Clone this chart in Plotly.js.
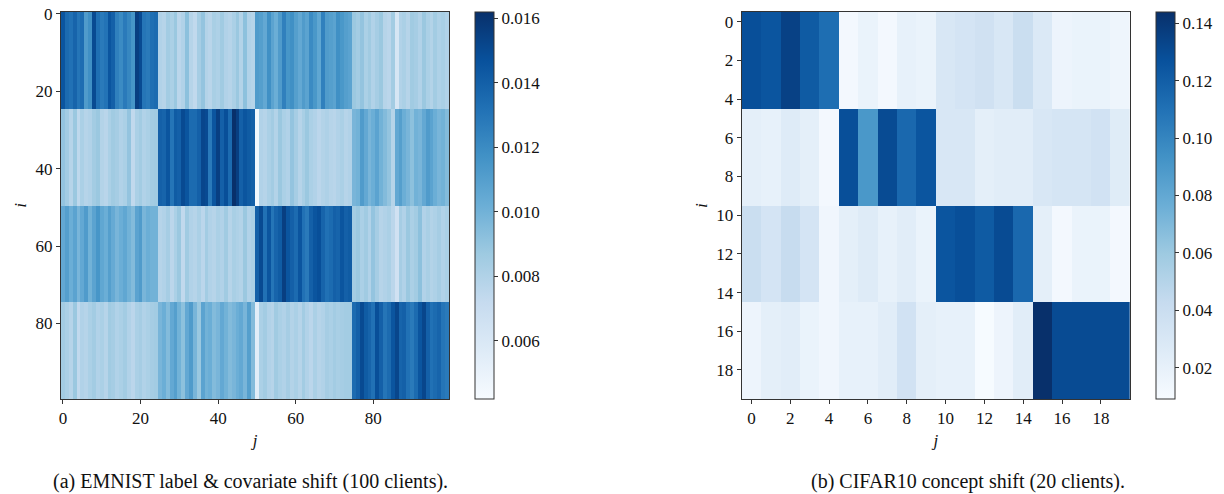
<!DOCTYPE html>
<html>
<head>
<meta charset="utf-8">
<script src="https://cdn.plot.ly/plotly-3.0.1.min.js"></script>
<style>html,body{margin:0;padding:0;background:#fff;}#chart{width:1224px;height:494px;}</style>
</head>
<body>
<div id="chart"></div>
<script>
// ---------- Data: EMNIST (100 clients, 4 groups of 25 rows; each group shares one column profile)
const emnistTicks = [0, 20, 40, 60, 80];
const emnistGroup1 = [
  0.0145,0.0135,0.0132,0.0138,0.0130,0.0134,0.0112,0.0118,0.0150,0.0133,0.0128,0.0131,0.0145,0.0140,0.0125,0.0120,0.0128,0.0122,0.0115,0.0155,0.0150,0.0130,0.0128,0.0133,0.0135,
  0.0080,0.0078,0.0085,0.0082,0.0088,0.0076,0.0080,0.0092,0.0078,0.0074,0.0084,0.0090,0.0079,0.0077,0.0083,0.0081,0.0086,0.0080,0.0078,0.0082,0.0088,0.0079,0.0092,0.0080,0.0078,
  0.0112,0.0110,0.0105,0.0118,0.0108,0.0102,0.0112,0.0125,0.0115,0.0118,0.0110,0.0105,0.0112,0.0108,0.0120,0.0114,0.0106,0.0125,0.0112,0.0110,0.0108,0.0118,0.0114,0.0110,0.0108,
  0.0088,0.0085,0.0090,0.0082,0.0086,0.0080,0.0084,0.0088,0.0078,0.0076,0.0085,0.0062,0.0080,0.0082,0.0078,0.0086,0.0084,0.0080,0.0088,0.0082,0.0079,0.0085,0.0081,0.0083,0.0080
];
const emnistGroup2 = [
  0.0090,0.0085,0.0078,0.0088,0.0075,0.0082,0.0078,0.0080,0.0085,0.0088,0.0079,0.0077,0.0082,0.0086,0.0084,0.0080,0.0082,0.0090,0.0074,0.0082,0.0085,0.0080,0.0082,0.0085,0.0086,
  0.0140,0.0138,0.0145,0.0130,0.0142,0.0140,0.0150,0.0145,0.0135,0.0135,0.0140,0.0152,0.0150,0.0128,0.0145,0.0155,0.0140,0.0148,0.0135,0.0162,0.0155,0.0140,0.0145,0.0142,0.0140,
  0.0045,0.0080,0.0078,0.0082,0.0085,0.0079,0.0088,0.0082,0.0080,0.0090,0.0084,0.0078,0.0083,0.0088,0.0082,0.0080,0.0076,0.0079,0.0081,0.0078,0.0077,0.0080,0.0082,0.0078,0.0080,
  0.0098,0.0100,0.0112,0.0105,0.0098,0.0102,0.0108,0.0100,0.0095,0.0090,0.0078,0.0105,0.0110,0.0102,0.0098,0.0092,0.0100,0.0098,0.0105,0.0112,0.0108,0.0102,0.0098,0.0100,0.0095
];
const emnistGroup3 = [
  0.0105,0.0110,0.0102,0.0108,0.0098,0.0105,0.0112,0.0100,0.0108,0.0115,0.0106,0.0102,0.0110,0.0104,0.0098,0.0102,0.0106,0.0100,0.0095,0.0108,0.0112,0.0098,0.0102,0.0100,0.0100,
  0.0078,0.0080,0.0084,0.0076,0.0082,0.0088,0.0074,0.0086,0.0080,0.0078,0.0082,0.0076,0.0085,0.0080,0.0078,0.0082,0.0080,0.0086,0.0078,0.0083,0.0081,0.0079,0.0088,0.0080,0.0082,
  0.0140,0.0150,0.0132,0.0145,0.0130,0.0138,0.0142,0.0155,0.0145,0.0140,0.0135,0.0145,0.0132,0.0128,0.0140,0.0145,0.0148,0.0138,0.0132,0.0135,0.0140,0.0138,0.0145,0.0140,0.0142,
  0.0085,0.0088,0.0082,0.0086,0.0080,0.0090,0.0084,0.0078,0.0080,0.0082,0.0076,0.0066,0.0084,0.0080,0.0088,0.0082,0.0085,0.0092,0.0080,0.0083,0.0079,0.0081,0.0084,0.0080,0.0082
];
const emnistGroup4 = [
  0.0085,0.0082,0.0078,0.0088,0.0074,0.0080,0.0078,0.0082,0.0085,0.0080,0.0082,0.0078,0.0086,0.0084,0.0080,0.0082,0.0085,0.0080,0.0076,0.0082,0.0084,0.0080,0.0082,0.0084,0.0085,
  0.0098,0.0102,0.0095,0.0105,0.0110,0.0100,0.0092,0.0105,0.0112,0.0098,0.0088,0.0108,0.0100,0.0102,0.0095,0.0098,0.0105,0.0100,0.0095,0.0098,0.0102,0.0105,0.0098,0.0110,0.0095,
  0.0055,0.0082,0.0085,0.0080,0.0078,0.0086,0.0082,0.0080,0.0084,0.0079,0.0082,0.0078,0.0085,0.0080,0.0076,0.0082,0.0078,0.0080,0.0084,0.0082,0.0085,0.0083,0.0084,0.0085,0.0085,
  0.0135,0.0140,0.0150,0.0142,0.0138,0.0132,0.0148,0.0140,0.0130,0.0135,0.0145,0.0152,0.0138,0.0140,0.0132,0.0128,0.0135,0.0145,0.0152,0.0140,0.0132,0.0135,0.0138,0.0130,0.0128
];
const emnistColorTicks = [0.006, 0.008, 0.010, 0.012, 0.014, 0.016];
const emnistRange = [0.0042, 0.0162];

// ---------- Data: CIFAR10 (20 clients, 4 groups of 5 rows)
const cifarTicks = [0, 2, 4, 6, 8, 10, 12, 14, 16, 18];
const cifarGroup1 = [0.128,0.125,0.135,0.122,0.112, 0.012,0.018,0.012,0.020,0.018, 0.030,0.033,0.036,0.030,0.040, 0.028,0.016,0.018,0.018,0.015];
const cifarGroup2 = [0.022,0.020,0.026,0.022,0.012, 0.128,0.090,0.130,0.115,0.125, 0.030,0.030,0.022,0.024,0.024, 0.030,0.032,0.032,0.035,0.025];
const cifarGroup3 = [0.040,0.033,0.042,0.033,0.014, 0.022,0.026,0.020,0.024,0.018, 0.125,0.128,0.122,0.130,0.115, 0.022,0.012,0.018,0.018,0.012];
const cifarGroup4 = [0.016,0.022,0.024,0.018,0.014, 0.020,0.020,0.024,0.035,0.022, 0.020,0.020,0.0095,0.016,0.024, 0.1439,0.130,0.130,0.130,0.130];
const cifarColorTicks = [0.02, 0.04, 0.06, 0.08, 0.10, 0.12, 0.14];
const cifarRange = [0.0091, 0.1439];

const captionA = "(a) EMNIST label &amp; covariate shift (100 clients).";
const captionB = "(b) CIFAR10 concept shift (20 clients).";

// ---------- Build matrices
function buildMatrix(groups, rowsPerGroup) {
  const z = [];
  groups.forEach(g => { for (let r = 0; r < rowsPerGroup; r++) z.push(g.slice()); });
  return z;
}
const zEmnist = buildMatrix([emnistGroup1, emnistGroup2, emnistGroup3, emnistGroup4], 25);
const zCifar = buildMatrix([cifarGroup1, cifarGroup2, cifarGroup3, cifarGroup4], 5);

// matplotlib "Blues"
const blues = [
  [0.0, '#f7fbff'], [0.125, '#deebf7'], [0.25, '#c6dbef'], [0.375, '#9ecae1'],
  [0.5, '#6baed6'], [0.625, '#4292c6'], [0.75, '#2171b5'], [0.875, '#08519c'], [1.0, '#08306b']
];

const W = 1224, H = 494;
const FAMILY = "'Liberation Serif', 'Times New Roman', serif";
const FONT = {family: FAMILY, size: 17, color: '#111'};
const plotTop = 12, plotBot = 399;
const yDom = [1 - plotBot / H, 1 - plotTop / H];
const xDomA = [61 / W, 449 / W];
const xDomB = [741.7 / W, 1130 / W];

function cbar(xpx, ticks, fmt) {
  return {
    x: xpx / W, xanchor: 'left', xref: 'paper', xpad: 0, ypad: 0,
    y: (yDom[0] + yDom[1]) / 2, yanchor: 'middle', len: yDom[1] - yDom[0], lenmode: 'fraction',
    thickness: 19, thicknessmode: 'pixels',
    outlinewidth: 1, outlinecolor: '#333',
    tickmode: 'array', tickvals: ticks, ticktext: ticks.map(v => v.toFixed(fmt)),
    ticks: 'outside', ticklen: 4, tickwidth: 1, tickcolor: '#333',
    tickfont: FONT
  };
}

const traces = [
  {
    type: 'heatmap', z: zEmnist, xaxis: 'x', yaxis: 'y',
    colorscale: blues, zmin: emnistRange[0], zmax: emnistRange[1],
    colorbar: cbar(475, emnistColorTicks, 3), hoverinfo: 'skip'
  },
  {
    type: 'heatmap', z: zCifar, xaxis: 'x2', yaxis: 'y2',
    colorscale: blues, zmin: cifarRange[0], zmax: cifarRange[1],
    colorbar: cbar(1156, cifarColorTicks, 2), hoverinfo: 'skip'
  }
];

function xax(dom, ticks, n, anchor) {
  return {
    domain: dom, anchor: anchor, range: [-0.5, n - 0.5],
    tickmode: 'array', tickvals: ticks, ticks: 'outside', ticklen: 4, tickwidth: 1, tickcolor: '#333',
    showline: true, linecolor: '#333', linewidth: 1, mirror: true,
    showgrid: false, zeroline: false, tickfont: FONT,
    title: {text: '<i>j</i>', font: FONT, standoff: 6}
  };
}
function yax(ticks, n, anchor) {
  return {
    domain: yDom, anchor: anchor, range: [n - 0.5, -0.5],
    tickmode: 'array', tickvals: ticks, ticks: 'outside', ticklen: 4, tickwidth: 1, tickcolor: '#333',
    showline: true, linecolor: '#333', linewidth: 1, mirror: true,
    showgrid: false, zeroline: false, tickfont: FONT,
    title: {text: '<i>i</i>', font: FONT, standoff: 4}
  };
}

const layout = {
  width: W, height: H,
  margin: {l: 0, r: 0, t: 0, b: 0},
  paper_bgcolor: '#fff', plot_bgcolor: '#fff',
  font: FONT, showlegend: false,
  xaxis: xax(xDomA, emnistTicks, 100, 'y'),
  yaxis: yax(emnistTicks, 100, 'x'),
  xaxis2: xax(xDomB, cifarTicks, 20, 'y2'),
  yaxis2: yax(cifarTicks, 20, 'x2'),
  annotations: [
    {text: captionA, xref: 'paper', yref: 'paper', x: 250 / W, y: 1 - 481 / H, xanchor: 'center', yanchor: 'middle', showarrow: false, font: {family: FAMILY, size: 20, color: '#111'}},
    {text: captionB, xref: 'paper', yref: 'paper', x: 968 / W, y: 1 - 481 / H, xanchor: 'center', yanchor: 'middle', showarrow: false, font: {family: FAMILY, size: 20, color: '#111'}}
  ]
};

Plotly.newPlot('chart', traces, layout, {staticPlot: true, displayModeBar: false});
</script>
</body>
</html>
